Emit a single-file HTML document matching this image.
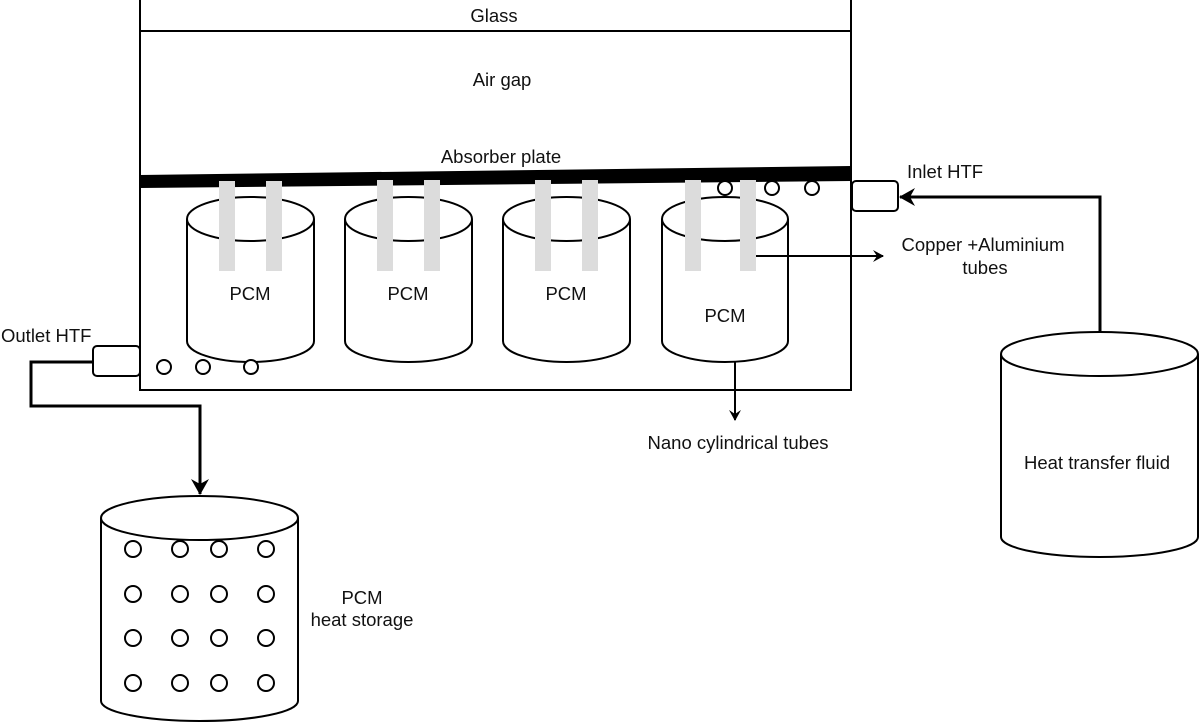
<!DOCTYPE html>
<html><head><meta charset="utf-8"><style>html,body{margin:0;padding:0;background:#fff}svg{display:block}text{font-family:"Liberation Sans",Arial,sans-serif;font-size:18.5px;fill:#111}</style></head><body>
<svg width="1200" height="722" viewBox="0 0 1200 722" xmlns="http://www.w3.org/2000/svg">
<defs><marker id="a" markerWidth="12" markerHeight="12" refX="10" refY="6" orient="auto" markerUnits="userSpaceOnUse"><path d="M0,0 L11,6 L0,12 L4,6 Z" fill="#000"/></marker>
<marker id="b" markerWidth="18" markerHeight="18" refX="15" refY="9" orient="auto" markerUnits="userSpaceOnUse"><path d="M0,0 L16,9 L0,18 L5,9 Z" fill="#000"/></marker></defs>
<g fill="none" stroke="#000" stroke-width="2">
<rect x="140" y="-2" width="711" height="392" fill="#fff"/>
<line x1="140" y1="31" x2="851" y2="31"/>
</g>
<polygon points="140,175 851,166 851,181 140,188" fill="#000"/>
<text x="494" y="22" text-anchor="middle">Glass</text>
<text x="502" y="86" text-anchor="middle">Air gap</text>
<text x="501" y="163" text-anchor="middle">Absorber plate</text>
<g fill="#fff" stroke="#000" stroke-width="2">
<path d="M187,219 V341 A63.5,21 0 0 0 314,341 V219"/><ellipse cx="250.5" cy="219" rx="63.5" ry="22"/>
<path d="M345,219 V341 A63.5,21 0 0 0 472,341 V219"/><ellipse cx="408.5" cy="219" rx="63.5" ry="22"/>
<path d="M503,219 V341 A63.5,21 0 0 0 630,341 V219"/><ellipse cx="566.5" cy="219" rx="63.5" ry="22"/>
<path d="M662,219 V341 A63,21 0 0 0 788,341 V219"/><ellipse cx="725" cy="219" rx="63" ry="22"/>
<circle cx="164" cy="367" r="7"/><circle cx="203" cy="367" r="7"/><circle cx="251" cy="367" r="7"/>
<circle cx="725" cy="188" r="7"/><circle cx="772" cy="188" r="7"/><circle cx="812" cy="188" r="7"/>
</g>
<g fill="#dcdcdc">
<rect x="219" y="181" width="16" height="90"/><rect x="266" y="181" width="16" height="90"/>
<rect x="377" y="180" width="16" height="91"/><rect x="424" y="180" width="16" height="91"/>
<rect x="535" y="180" width="16" height="91"/><rect x="582" y="180" width="16" height="91"/>
<rect x="685" y="180" width="16" height="91"/><rect x="740" y="180" width="16" height="91"/>
</g>
<text x="250" y="300" text-anchor="middle">PCM</text>
<text x="408" y="300" text-anchor="middle">PCM</text>
<text x="566" y="300" text-anchor="middle">PCM</text>
<text x="725" y="322" text-anchor="middle">PCM</text>
<g fill="#fff" stroke="#000" stroke-width="2">
<rect x="852" y="181" width="46" height="30" rx="4"/>
<rect x="93" y="346" width="47" height="30" rx="4"/>
</g>
<g fill="none" stroke="#000">
<line x1="756" y1="256" x2="883" y2="256" stroke-width="2" marker-end="url(#a)"/>
<line x1="735" y1="362" x2="735" y2="420" stroke-width="2" marker-end="url(#a)"/>
<polyline points="1100,332 1100,197 900,197" stroke-width="3" marker-end="url(#b)"/>
<polyline points="93,362 31,362 31,406 200,406 200,494" stroke-width="3" marker-end="url(#b)"/>
</g>
<text x="907" y="178">Inlet HTF</text>
<text x="983" y="251" text-anchor="middle">Copper +Aluminium</text>
<text x="985" y="274" text-anchor="middle">tubes</text>
<text x="738" y="449" text-anchor="middle">Nano cylindrical tubes</text>
<text x="1" y="342">Outlet HTF</text>
<g fill="#fff" stroke="#000" stroke-width="2">
<path d="M1001,354 V537 A98.5,20 0 0 0 1198,537 V354"/><ellipse cx="1099.5" cy="354" rx="98.5" ry="22"/>
<path d="M101,518 V701 A98.5,20 0 0 0 298,701 V518"/><ellipse cx="199.5" cy="518" rx="98.5" ry="22"/>
</g>
<text x="1097" y="469" text-anchor="middle">Heat transfer fluid</text>
<text x="362" y="604" text-anchor="middle">PCM</text>
<text x="362" y="626" text-anchor="middle">heat storage</text>
<g fill="none" stroke="#000" stroke-width="2">
<circle cx="133" cy="549" r="8"/><circle cx="180" cy="549" r="8"/><circle cx="219" cy="549" r="8"/><circle cx="266" cy="549" r="8"/>
<circle cx="133" cy="594" r="8"/><circle cx="180" cy="594" r="8"/><circle cx="219" cy="594" r="8"/><circle cx="266" cy="594" r="8"/>
<circle cx="133" cy="638" r="8"/><circle cx="180" cy="638" r="8"/><circle cx="219" cy="638" r="8"/><circle cx="266" cy="638" r="8"/>
<circle cx="133" cy="683" r="8"/><circle cx="180" cy="683" r="8"/><circle cx="219" cy="683" r="8"/><circle cx="266" cy="683" r="8"/>
</g>
</svg>
</body></html>
